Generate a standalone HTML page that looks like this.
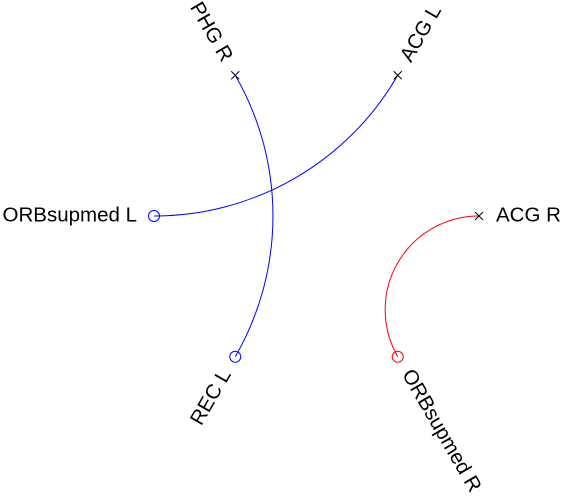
<!DOCTYPE html>
<html><head><meta charset="utf-8"><style>
html,body{margin:0;padding:0;background:#fff;}
svg{display:block;font-family:"Liberation Sans",Arial,sans-serif;}
</style></head><body>
<svg id="chart" width="564" height="499" viewBox="0 0 564 499" xmlns="http://www.w3.org/2000/svg"></svg>
<script>
const nodeNames = ["ACG R","ACG L","PHG R","ORBsupmed L","REC L","ORBsupmed R"];
const nodeAngles = [0,60,120,180,240,300];
const nodeMarkers = ["x","x","x","o","o","o"];
const edgeFrom = [2,3,5];
const edgeTo = [4,1,0];
const edgeColors = ["#0000ff","#0000ff","#ff0000"];

const NS="http://www.w3.org/2000/svg";
const svg=document.getElementById('chart');
const cx=316.5, cy=216, R=162.5;
function pos(a,r){const t=a*Math.PI/180;return [cx+r*Math.cos(t),cy-r*Math.sin(t)];}
function mk(tag,attrs){const e=document.createElementNS(NS,tag);for(const k in attrs)e.setAttribute(k,attrs[k]);svg.appendChild(e);return e;}

for(let i=0;i<edgeFrom.length;i++){
  const a1=nodeAngles[edgeFrom[i]], a2=nodeAngles[edgeTo[i]];
  const [x1,y1]=pos(a1,R), [x2,y2]=pos(a2,R);
  let d=Math.abs(a2-a1)%360; if(d>180)d=360-d;
  const half=d/2*Math.PI/180;
  const r=R*Math.tan(half);
  const cross=(x1-cx)*(y2-cy)-(y1-cy)*(x2-cx);
  const sweep = cross>0?0:1;
  const p=mk('path',{d:`M${x1},${y1} A${r},${r} 0 0 ${sweep} ${x2},${y2}`,fill:'none',stroke:edgeColors[i],'stroke-width':1});
  
  
}
for(let i=0;i<nodeNames.length;i++){
  const a=nodeAngles[i];
  const [x,y]=pos(a,R);
  const slug=nodeNames[i].toLowerCase().replace(/ /g,'-');
  let col='#000';
  edgeFrom.forEach((f,j)=>{if(f===i&&nodeMarkers[i]==='o')col=edgeColors[j];});
  edgeTo.forEach((f,j)=>{if(f===i&&nodeMarkers[i]==='o')col=edgeColors[j];});
  let m;
  if(nodeMarkers[i]==='o'){
    m=mk('circle',{cx:x,cy:y,r:5.5,fill:'none',stroke:col,'stroke-width':1});
  }else{
    m=mk('path',{d:`M${x-4},${y-4}L${x+4},${y+4}M${x-4},${y+4}L${x+4},${y-4}`,stroke:'#000','stroke-width':1,fill:'none'});
  }
  
  
  const [lx,ly]=pos(a,R+17);
  const left = Math.cos(a*Math.PI/180)<-0.01;
  let rot = -a; if(left) rot = 180-a;
  const t=mk('text',{x:lx,y:ly,'font-size':20.5,fill:'#000','text-anchor':left?'end':'start','dominant-baseline':'middle',transform:`rotate(${rot} ${lx} ${ly})`});
  t.textContent=nodeNames[i];
  
  
}
</script>
</body></html>
